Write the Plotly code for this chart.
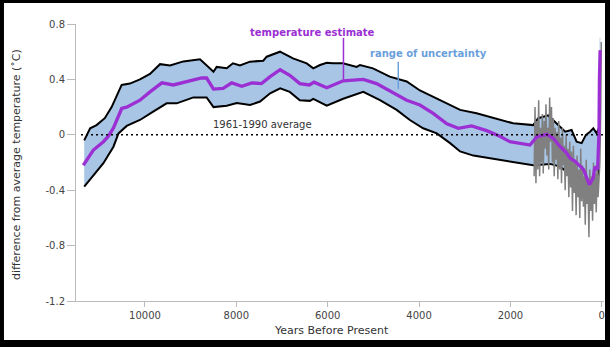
import plotly.graph_objects as go

# ---- data ----
est_years = [11350, 11130, 10910, 10800, 10690, 10510, 10400, 10110, 9890, 9630, 9380, 9120,
             8760, 8650, 8500, 8290, 8100, 7880, 7660, 7450, 7260, 7040, 6830, 6610, 6400, 6300,
             6020, 5660, 5220, 4930, 4560, 4270, 3980, 3690, 3390, 3140, 2850, 2520, 2230, 2010,
             1570, 1460, 1420, 1200, 1060, 910, 770, 690, 590, 400, 270, 185, 150, 90, 60, 50, 35, 30]
est_temp = [-0.22, -0.11, -0.05, -0.01, 0.05, 0.19, 0.20, 0.25, 0.31, 0.375, 0.36, 0.38,
            0.41, 0.41, 0.33, 0.335, 0.375, 0.35, 0.375, 0.37, 0.42, 0.47, 0.43, 0.37, 0.36, 0.38,
            0.34, 0.39, 0.40, 0.37, 0.30, 0.25, 0.215, 0.155, 0.08, 0.047, 0.064, 0.03, -0.01, -0.05,
            -0.074, -0.025, -0.014, 0.003, -0.025, -0.086, -0.13, -0.17, -0.19, -0.25, -0.36, -0.31,
            -0.23, -0.25, 0.01, 0.40, 0.61, 0.60]

upper_years = [11330, 11200, 11060, 10880, 10730, 10510, 10330, 10110, 9890, 9670, 9450, 9160,
               8795, 8650, 8500, 8430, 8210, 8073, 7920, 7701, 7410, 7335, 7044, 6759, 6459, 6315,
               6168, 6020, 5883, 5665, 5365, 5292, 5008, 4640, 4270, 3980, 3690, 3390, 3100, 2740,
               2370, 1940, 1500, 1390, 1170, 990, 800, 660, 550, 440, 345, 255, 185, 110, 60, 45, 30]
upper_temp = [-0.04, 0.047, 0.07, 0.12, 0.20, 0.36, 0.37, 0.40, 0.44, 0.51, 0.50, 0.53,
              0.545, 0.50, 0.455, 0.49, 0.48, 0.516, 0.50, 0.528, 0.535, 0.564, 0.60, 0.552, 0.516, 0.48,
              0.504, 0.52, 0.516, 0.516, 0.49, 0.504, 0.48, 0.42, 0.385, 0.32, 0.275, 0.23, 0.18, 0.155,
              0.12, 0.083, 0.07, 0.12, 0.14, 0.083, 0.022, 0.035, -0.05, -0.06, 0.0, 0.022, 0.047,
              0.01, 0.05, 0.70, 0.70]

lower_years = [11330, 11130, 10910, 10690, 10580, 10400, 10110, 9820, 9525, 9306, 8940, 8650,
               8500, 8210, 7990, 7700, 7480, 7260, 7040, 6830, 6610, 6390, 6315, 6020, 5660, 5220,
               4855, 4490, 4200, 3910, 3610, 3320, 3100, 2810, 2450, 2230, 2080, 1860, 1500, 1130,
               910, 770, 660, 550, 400, 315, 220, 110, 55, 40, 30]
lower_temp = [-0.375, -0.29, -0.205, -0.086, 0.01, 0.064, 0.107, 0.167, 0.227, 0.227, 0.27, 0.27,
              0.20, 0.21, 0.23, 0.215, 0.24, 0.30, 0.335, 0.31, 0.25, 0.245, 0.26, 0.21, 0.26, 0.31,
              0.25, 0.18, 0.107, 0.047, 0.01, -0.06, -0.12, -0.15, -0.17, -0.18, -0.19, -0.20, -0.22,
              -0.21, -0.23, -0.266, -0.29, -0.35, -0.41, -0.47, -0.45, -0.33, -0.23, 0.45, 0.50]

gray_years = [1480, 1460, 1440, 1420, 1400, 1380, 1360, 1340, 1320, 1300, 1280, 1260, 1240, 1220,
              1200, 1180, 1160, 1140, 1120, 1100, 1080, 1060, 1040, 1020, 1000, 980, 960, 940, 920,
              900, 880, 860, 840, 820, 800, 780, 760, 740, 720, 700, 680, 660, 640, 620, 600, 580,
              560, 540, 520, 500, 480, 460, 440, 420, 400, 380, 360, 340, 320, 300, 280, 260, 240,
              220, 200, 180, 160, 140, 120, 100, 80, 60, 40, 20, 10]
gray_temp = [-0.30, 0.20, -0.35, 0.10, -0.25, 0.25, -0.30, 0.05, -0.20, 0.15, -0.28, 0.10, -0.10, 0.22,
             -0.15, 0.05, -0.25, 0.27, -0.05, 0.20, -0.20, 0.12, -0.30, 0.05, -0.18, 0.02, -0.32, 0.10,
             -0.25, -0.02, -0.35, 0.05, -0.22, -0.08, -0.40, 0.00, -0.30, -0.10, -0.45, -0.05, -0.38,
             -0.12, -0.55, -0.08, -0.42, -0.20, -0.58, -0.15, -0.45, -0.25, -0.60, -0.10, -0.48, -0.22,
             -0.52, -0.30, -0.65, -0.18, -0.50, -0.35, -0.74, -0.25, -0.55, -0.30, -0.62, -0.20, -0.50,
             -0.28, -0.56, -0.22, -0.45, -0.30, -0.20, 0.20, 0.67]

x_ticks = [10000, 8000, 6000, 4000, 2000, 0]
x_tick_text = ["10000", "8000", "6000", "4000", "2000", "0"]
y_ticks = [-1.2, -0.8, -0.4, 0, 0.4, 0.8]
y_tick_text = ["-1.2", "-0.8", "-0.4", "0", "0.4", "0.8"]

PURPLE = "#9b2fd3"
FILL = "#a8c5e6"
BLUE_TXT = "#6a9fdc"
FONT = "DejaVu Sans"

fig = go.Figure()

# uncertainty band (polygon from upper + reversed lower)
fig.add_trace(go.Scatter(
    x=upper_years + lower_years[::-1],
    y=upper_temp + lower_temp[::-1],
    fill="toself", fillcolor=FILL, line=dict(width=0), mode="lines",
    hoverinfo="skip", showlegend=False))
# bound outlines (the final spike is fill only)
fig.add_trace(go.Scatter(x=upper_years[:-2], y=upper_temp[:-2], mode="lines",
                         line=dict(color="black", width=2), showlegend=False))
fig.add_trace(go.Scatter(x=lower_years[:-2], y=lower_temp[:-2], mode="lines",
                         line=dict(color="black", width=2), showlegend=False))
fig.add_trace(go.Scatter(x=gray_years, y=gray_temp, mode="lines",
                         line=dict(color="#808080", width=1.5), showlegend=False))
fig.add_trace(go.Scatter(x=est_years, y=est_temp, mode="lines",
                         line=dict(color=PURPLE, width=3.3), showlegend=False))

shapes = [
    # white panel on black frame
    dict(type="rect", xref="paper", yref="paper", x0=-0.1364, x1=1.0019, y0=-0.1408, y1=1.0758,
         fillcolor="white", line=dict(width=0), layer="below"),
    # 1961-1990 average dotted line
    dict(type="line", xref="paper", yref="y", x0=0.0095, x1=1.0, y0=0, y1=0,
         line=dict(color="black", width=1.5, dash="2px,3px"), layer="above"),
    # leader lines
    dict(type="line", xref="x", yref="y", x0=5654, x1=5654, y0=0.70, y1=0.40,
         line=dict(color=PURPLE, width=1.5)),
    dict(type="line", xref="x", yref="y", x0=4454, x1=4454, y0=0.528, y1=0.331,
         line=dict(color=BLUE_TXT, width=1.5)),
]

annotations = [
    dict(text="<b>temperature estimate</b>", x=6343, y=0.742, xref="x", yref="y",
         xanchor="center", yanchor="middle",
         showarrow=False, font=dict(family=FONT, size=10, color=PURPLE)),
    dict(text="<b>range of uncertainty</b>", x=3793, y=0.59, xref="x", yref="y",
         xanchor="center", yanchor="middle",
         showarrow=False, font=dict(family=FONT, size=10, color=BLUE_TXT)),
    dict(text="1961-1990 average", x=7416, y=0.071, xref="x", yref="y",
         xanchor="center", yanchor="middle",
         showarrow=False, font=dict(family=FONT, size=10, color="#333333")),
    dict(text="Years Before Present", x=0.483, y=-0.1083, xref="paper", yref="paper",
         xanchor="center", yanchor="middle",
         showarrow=False, font=dict(family=FONT, size=11, color="#333333")),
    dict(text="difference from average temperature (˚C)", x=-0.1117, y=0.491,
         xref="paper", yref="paper", textangle=-90, xanchor="center", yanchor="middle",
         showarrow=False, font=dict(family=FONT, size=11, color="#333333")),
]

fig.update_layout(
    width=610, height=347,
    margin=dict(l=76, r=6, t=24, b=46),
    paper_bgcolor="black", plot_bgcolor="white",
    font=dict(family=FONT, size=10, color="#444444"),
    shapes=shapes, annotations=annotations, showlegend=False,
    xaxis=dict(range=[11510, -50], tickvals=x_ticks, ticktext=x_tick_text, ticks="outside",
               ticklen=5, tickcolor="#bbbbbb", showline=True, linecolor="#bbbbbb", linewidth=1,
               showgrid=False, zeroline=False, tickfont=dict(size=10, color="#444444")),
    yaxis=dict(range=[-1.2, 0.8], tickvals=y_ticks, ticktext=y_tick_text, ticks="outside",
               ticklen=8, tickcolor="#bbbbbb", showline=True, linecolor="#bbbbbb", linewidth=1,
               showgrid=False, zeroline=False, tickfont=dict(size=10, color="#444444")),
)

fig.write_html("out.html")
